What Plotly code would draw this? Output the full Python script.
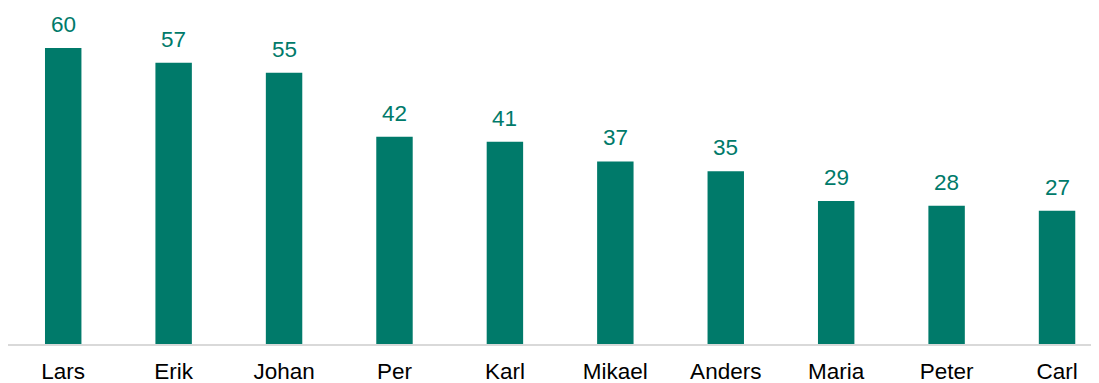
import plotly.graph_objs as go

names = ["Lars", "Erik", "Johan", "Per", "Karl", "Mikael", "Anders", "Maria", "Peter", "Carl"]
counts = [60, 57, 55, 42, 41, 37, 35, 29, 28, 27]

teal = "#007A6A"
font_family = "Liberation Sans, Arial"

fig = go.Figure()
fig.add_trace(go.Bar(
    x=names,
    y=counts,
    marker=dict(color=teal, line=dict(width=0)),
    cliponaxis=False,
))

# value labels above the bars, with some air between text and bar
for name, val in zip(names, counts):
    fig.add_annotation(
        x=name, y=val, text=str(val),
        showarrow=False, yanchor="bottom", yshift=9,
        font=dict(color=teal, size=22.5, family=font_family),
    )

# page body has an 8px margin, so the figure is a bit smaller than the window
fig.update_layout(
    width=1091,
    height=375,
    margin=dict(l=0, r=0, t=2, b=39),
    plot_bgcolor="white",
    paper_bgcolor="white",
    bargap=0.67,
    showlegend=False,
    font=dict(family=font_family, size=22.5, color="black"),
)
fig.update_xaxes(
    range=[-0.5, 9.38],
    automargin=False,
    showline=True,
    linecolor="#d9d9d9",
    linewidth=2,
    ticks="",
    ticklabelstandoff=6,
    showgrid=False,
    tickfont=dict(size=22.5, color="black"),
)
fig.update_yaxes(
    range=[0, 67.7],
    visible=False,
    showgrid=False,
    zeroline=False,
)

fig.write_html("out.html")
